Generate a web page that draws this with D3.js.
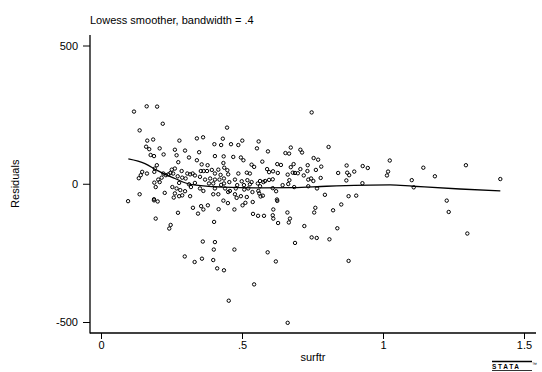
<!DOCTYPE html>
<html>
<head>
<meta charset="utf-8">
<script src="https://cdn.jsdelivr.net/npm/d3@7"></script>
<style>
  body { margin: 0; background: #fff; }
  svg { display: block; font-family: "Liberation Sans", Arial, Helvetica, sans-serif; }
</style>
</head>
<body>
<div id="chart"></div>
<script>
// residuals vs surftr
const surftr = [
  0.117, 0.162, 0.199, 0.747,
  0.219, 0.137, 0.164, 0.185, 0.160, 0.171, 0.208, 0.176, 0.188, 0.222,
  0.198, 0.191, 0.189, 0.146, 0.163, 0.141, 0.134, 0.221, 0.230, 0.239,
  0.246, 0.251, 0.256, 0.215, 0.203, 0.189, 0.208, 0.194, 0.253, 0.137,
  0.226, 0.188,
  0.447, 0.278, 0.340, 0.362, 0.432, 0.501, 0.402, 0.426, 0.461, 0.487,
  0.298, 0.262, 0.348, 0.268, 0.312, 0.404, 0.435, 0.469, 0.496, 0.505,
  0.274, 0.340, 0.357, 0.378, 0.434, 0.416, 0.437, 0.448, 0.534, 0.543,
  0.262, 0.286, 0.306, 0.316, 0.325, 0.333, 0.354, 0.364, 0.376, 0.393,
  0.404, 0.424, 0.451, 0.487, 0.517, 0.528, 0.272, 0.288, 0.300, 0.351,
  0.369, 0.387, 0.404, 0.420, 0.436, 0.455, 0.475, 0.499, 0.519, 0.534,
  0.277, 0.312, 0.333, 0.383, 0.398, 0.426, 0.436, 0.483, 0.507, 0.528,
  0.268, 0.281, 0.298, 0.319, 0.351, 0.363, 0.404, 0.440, 0.457, 0.478,
  0.508, 0.522, 0.262, 0.277, 0.288, 0.316, 0.398, 0.416, 0.451, 0.475,
  0.496, 0.517, 0.537, 0.481, 0.258,
  0.559, 0.553, 0.592, 0.673, 0.654, 0.667, 0.707, 0.713, 0.807, 0.572,
  0.625, 0.638, 0.683, 0.733, 0.754, 0.770, 0.781, 0.762, 0.707, 0.673,
  0.589, 0.596, 0.610, 0.627, 0.662, 0.680, 0.688, 0.698, 0.719, 0.732,
  0.735, 0.745, 0.753, 0.779, 0.668, 0.664, 0.644, 0.609, 0.596, 0.582,
  0.564, 0.576, 0.556, 0.564, 0.685, 0.735, 0.766, 0.609, 0.621, 0.558,
  0.561, 0.566, 0.574, 0.794, 0.624,
  1.024, 1.294, 1.143, 1.184, 1.416, 1.102, 1.109, 1.014, 1.018, 0.928,
  0.946, 0.871, 0.898, 0.873, 0.880, 0.870, 0.927, 0.841, 0.878, 0.905,
  0.852, 1.226, 1.233, 1.299, 0.838, 0.878,
  0.096, 0.188, 0.201, 0.194, 0.247, 0.242, 0.273, 0.326, 0.344, 0.355,
  0.363, 0.379, 0.417, 0.434, 0.450, 0.473, 0.502, 0.512, 0.538, 0.401,
  0.539, 0.361, 0.404, 0.400, 0.473, 0.297, 0.332, 0.358, 0.398, 0.412,
  0.436, 0.543, 0.453,
  0.625, 0.557, 0.578, 0.611, 0.609, 0.611, 0.628, 0.661, 0.670, 0.666,
  0.721, 0.760, 0.756, 0.823, 0.747, 0.765, 0.810, 0.688, 0.591, 0.620,
  0.662
];
const residuals = [
  261, 280, 279, 258,
  217, 193, 156, 160, 134, 125, 128, 104, 100, 106,
  67, 55, 43, 43, 37, 31, 20, 37, 31, 34,
  39, 51, 37, 22, 15, 4, 6, -12, -12, -38,
  -33, -56,
  203, 156, 164, 168, 163, 156, 143, 140, 143, 140,
  120, 123, 114, 103, 95, 100, 99, 97, 95, 85,
  78, 85, 70, 67, 75, 51, 58, 49, 69, 61,
  55, 46, 37, 34, 37, 30, 46, 46, 46, 50,
  37, 32, 34, 37, 40, 37, 27, 22, 19, 25,
  15, 19, 15, 15, 19, 6, 15, 9, 13, 6,
  3, -2, 3, 1, 1, -4, 1, -5, -5, -2,
  -17, -23, -27, -12, -17, -26, -17, -17, -26, -17,
  -21, -17, -35, -45, -42, -45, -38, -38, -30, -38,
  -45, -48, -30, -51, -50,
  153, 128, 117, 131, 111, 109, 123, 113, 133, 80,
  71, 68, 71, 67, 93, 87, 62, 50, 53, 60,
  53, 42, 45, 39, 33, 40, 39, 38, 30, 46,
  15, 19, 10, 21, 13, -1, -5, 16, 14, 10,
  10, 6, 1, -9, -12, -9, -17, -16, -27, -26,
  -35, -46, -43, -40, -57,
  84, 67, 58, 27, 17, 13, -13, 30, 44, 64,
  57, 66, 44, 40, 31, 12, 2, 39, -45, -43,
  -75, -61, -102, -180, -161, -279,
  -63, -60, -64, -126, -149, -162, -105, -87, -108, -81,
  -93, -78, -92, -61, -70, -93, -78, -69, -66, -138,
  -109, -209, -211, -238, -238, -263, -283, -271, -276, -306,
  -313, -364, -423,
  -62, -116, -116, -93, -114, -126, -142, -104, -126, -140,
  -153, -87, -104, -96, -194, -196, -201, -214, -248, -281,
  -503
];

// lowess curve (bandwidth .4) as drawn in the reference
const lowessX = [0.097, 0.156, 0.198, 0.233, 0.262, 0.316, 0.434, 0.564, 0.681, 0.800, 1.025, 1.106, 1.273, 1.416];
const lowessY = [90, 73, 49, 31, 19, -2, -12, -15, -14, -9, -4, -9, -19, -26];

const xTicks = [0, 0.5, 1, 1.5];
const yTicks = [-500, 0, 500];

const width = 542;
const height = 372;
const plot = { left: 90, right: 536, top: 35, bottom: 333 };

const svg = d3
  .select('#chart')
  .append('svg')
  .attr('width', width)
  .attr('height', height);

svg.append('rect').attr('width', width).attr('height', height).attr('fill', '#fff');

const x = d3.scaleLinear().domain([0, 1.5]).range([101, 524]);
const y = d3.scaleLinear().domain([-500, 500]).range([322, 45.5]);

// axes
const yAxis = svg
  .append('g')
  .attr('transform', `translate(${plot.left},0)`)
  .call(
    d3.axisLeft(y)
      .tickValues(yTicks)
      .tickSize(7)
      .tickPadding(5)
      .tickFormat((d) => String(d))
  );

const xAxis = svg
  .append('g')
  .attr('transform', `translate(0,${plot.bottom})`)
  .call(
    d3.axisBottom(x)
      .tickValues(xTicks)
      .tickSize(6)
      .tickPadding(2)
      .tickFormat((d) => String(d).replace(/^0\./, '.'))
  );

[yAxis, xAxis].forEach((g) => {
  g.select('.domain').remove();
  g.attr('font-family', null).attr('font-size', 11);
  g.selectAll('.tick line').attr('stroke', '#000').attr('stroke-width', 1);
  g.selectAll('.tick text').attr('fill', '#000');
});

svg.append('line')
  .attr('x1', plot.left).attr('x2', plot.left)
  .attr('y1', plot.top).attr('y2', plot.bottom + 0.5)
  .attr('stroke', '#000').attr('stroke-width', 1.3);

svg.append('line')
  .attr('x1', plot.left).attr('x2', plot.right)
  .attr('y1', plot.bottom).attr('y2', plot.bottom)
  .attr('stroke', '#000').attr('stroke-width', 1.3);

// points
svg.append('g')
  .selectAll('circle')
  .data(surftr.map((s, i) => [s, residuals[i]]))
  .join('circle')
  .attr('cx', (d) => x(d[0]))
  .attr('cy', (d) => y(d[1]))
  .attr('r', 1.7)
  .attr('fill', 'none')
  .attr('stroke', '#000')
  .attr('stroke-width', 1);

// smoother
const line = d3.line()
  .x((d) => x(d[0]))
  .y((d) => y(d[1]))
  .curve(d3.curveMonotoneX);

svg.append('path')
  .datum(lowessX.map((v, i) => [v, lowessY[i]]))
  .attr('d', line)
  .attr('fill', 'none')
  .attr('stroke', '#000')
  .attr('stroke-width', 1.3);

// titles
svg.append('text')
  .attr('x', plot.left)
  .attr('y', 24)
  .attr('font-size', 11)
  .text('Lowess smoother, bandwidth = .4');

svg.append('text')
  .attr('transform', `translate(19,${y(0)}) rotate(-90)`)
  .attr('text-anchor', 'middle')
  .attr('font-size', 11)
  .text('Residuals');

svg.append('text')
  .attr('x', (plot.left + plot.right) / 2)
  .attr('y', 361)
  .attr('text-anchor', 'middle')
  .attr('font-size', 11)
  .text('surftr');

// stata logo
const logo = svg.append('g').attr('transform', 'translate(492,0)');
logo.append('line')
  .attr('x1', 0).attr('x2', 40)
  .attr('y1', 361.5).attr('y2', 361.5)
  .attr('stroke', '#000').attr('stroke-width', 1.3);
logo.append('text')
  .attr('x', 0).attr('y', 369)
  .attr('font-size', 6.5)
  .attr('font-weight', 'bold')
  .attr('letter-spacing', 1.7)
  .text('STATA');
logo.append('line')
  .attr('x1', 0).attr('x2', 40)
  .attr('y1', 370.5).attr('y2', 370.5)
  .attr('stroke', '#000').attr('stroke-width', 0.8);
logo.append('text')
  .attr('x', 40).attr('y', 366)
  .attr('font-size', 5)
  .text('™');
</script>
</body>
</html>
